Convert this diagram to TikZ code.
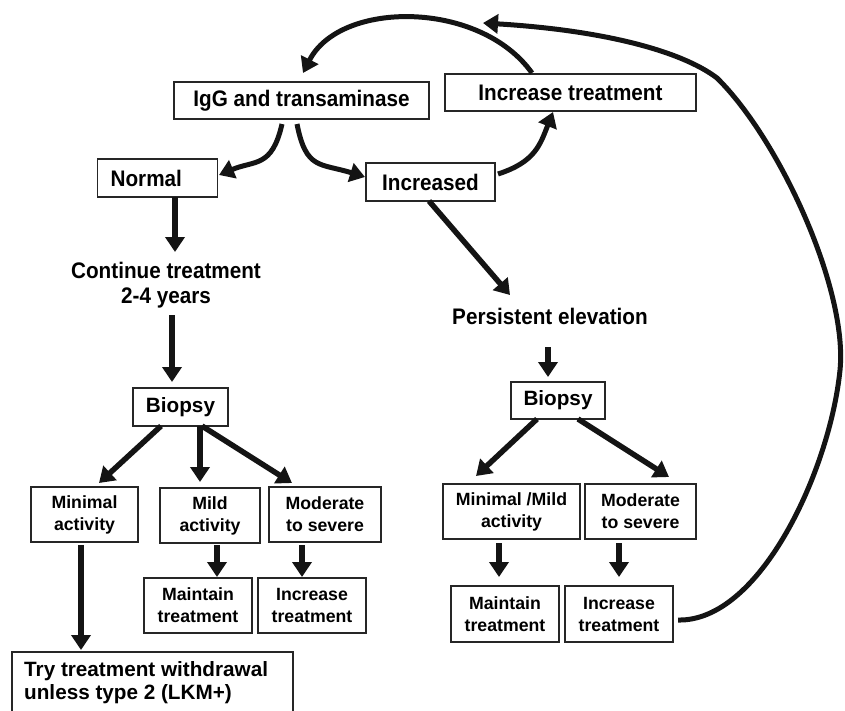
\documentclass[tikz,border=0pt]{standalone}
\usepackage{fontspec}
\setmainfont{Liberation Sans}
\newfontfamily\condfont{Liberation Sans}[FakeStretch=0.92]
\usetikzlibrary{arrows.meta}
\begin{document}
\begin{tikzpicture}[x=1pt,y=-1pt,
  box/.style={draw=black!85, line width=1.3pt, inner sep=0pt, align=center,
    font=\bfseries\fontsize{17.7}{22}\selectfont},
  bigbox/.style={draw=black!85, line width=1.3pt, inner sep=0pt, align=center,
    font=\bfseries\fontsize{20.7}{23}\selectfont},
  upbox/.style={draw=black!85, line width=1.3pt, inner sep=0pt, align=center,
    font=\condfont\bfseries\fontsize{22.5}{25}\selectfont},
  uptext/.style={inner sep=0pt, align=center,
    font=\condfont\bfseries\fontsize{22.5}{25}\selectfont},
  arr/.style={line width=5.5pt, draw=black!92, -{Triangle[length=15pt,width=19pt]}},
  curv/.style={line width=5pt, draw=black!92, -{Triangle[length=15pt,width=19pt]}},
  frame/.style={draw=black!85, line width=1.3pt},
]
\useasboundingbox (0,0) rectangle (845,710);

% upper part
\node[upbox, minimum width=255pt, minimum height=37pt] (igg) at (301.5,100.5) {IgG and transaminase};
\node[upbox, minimum width=251pt, minimum height=37pt] (inctop) at (570.5,92.5) {Increase treatment};
\node[upbox, anchor=west, text width=94pt, inner xsep=13pt, minimum height=38pt, align=left] (normal) at (97,178) {Normal};
\node[upbox, minimum width=129pt, minimum height=38pt] (increased) at (430.5,182) {Increased};
\node[uptext] (cont) at (166,285) {Continue treatment\\2-4 years};
\node[uptext] (pers) at (550,316) {Persistent elevation};

% left branch
\node[bigbox, minimum width=95pt, minimum height=38pt] (biopL) at (180.5,407) {Biopsy};
\node[box, minimum width=107pt, minimum height=55pt] (minL) at (84.5,514.5) {Minimal\\activity};
\node[box, minimum width=100pt, minimum height=55pt] (mildL) at (210,515.5) {Mild\\activity};
\node[box, minimum width=112pt, minimum height=55pt] (modL) at (325,514.5) {Moderate\\to severe};
\node[box, minimum width=108pt, minimum height=55pt] (maintL) at (198,605.5) {Maintain\\treatment};
\node[box, minimum width=108pt, minimum height=55pt] (incL) at (312,605.5) {Increase\\treatment};
\node[inner sep=0pt, anchor=north west, align=left, font=\bfseries\fontsize{20.7}{23}\selectfont] (tryL) at (24,661) {Try treatment withdrawal\\unless type 2 (LKM+)};
\draw[frame] (12,712) -- (12,652) -- (293,652) -- (293,712);

% right branch
\node[bigbox, minimum width=94pt, minimum height=37pt] (biopR) at (558,400.5) {Biopsy};
\node[box, minimum width=137pt, minimum height=55pt] (minR) at (511.5,511.5) {Minimal /Mild\\activity};
\node[box, minimum width=111pt, minimum height=55pt] (modR) at (640.5,511.5) {Moderate\\to severe};
\node[box, minimum width=108pt, minimum height=56pt] (maintR) at (505,614) {Maintain\\treatment};
\node[box, minimum width=108pt, minimum height=56pt] (incR) at (619,614) {Increase\\treatment};

% free ends of connectors
\coordinate (aNormal) at (175,197);   \coordinate (bNormal) at (175,252);
\coordinate (aCont) at (172,315);     \coordinate (bCont) at (172,382);
\coordinate (aIncd) at (429,201);     \coordinate (bIncd) at (510,295);
\coordinate (aPers) at (548,347);     \coordinate (bPers) at (548,377);
\coordinate (aBL1) at (161,426);      \coordinate (bBL1) at (99,483);
\coordinate (aBL2) at (200,426);      \coordinate (bBL2) at (200,482);
\coordinate (aBL3) at (202,426);      \coordinate (bBL3) at (292,483);
\coordinate (aMin) at (81,545);       \coordinate (bMin) at (81,650);
\coordinate (aMild) at (217,545);     \coordinate (bMild) at (217,577);
\coordinate (aMod) at (302,545);      \coordinate (bMod) at (302,577);
\coordinate (aBR1) at (537,419);      \coordinate (bBR1) at (476,476);
\coordinate (aBR2) at (578,419);      \coordinate (bBR2) at (669,477);
\coordinate (aMinR) at (499,543);     \coordinate (bMinR) at (499,577);
\coordinate (aModR) at (619,543);     \coordinate (bModR) at (619,577);
\coordinate (aIgg1) at (282,124);     \coordinate (bIgg1) at (219,175);
\coordinate (aIgg2) at (297,124);     \coordinate (bIgg2) at (365,177);
\coordinate (aInc) at (498,174);      \coordinate (bInc) at (553,112);
\coordinate (aTop) at (532,73);       \coordinate (bTop) at (303,73);
\coordinate (aBig) at (678,620);      \coordinate (mBig1) at (840,370);
\coordinate (mBig2) at (717,78);      \coordinate (bBig) at (483,23);

% straight arrows
\draw[arr] (aNormal) -- (bNormal);
\draw[arr] (aCont) -- (bCont);
\draw[arr] (aIncd) -- (bIncd);
\draw[arr] (aPers) -- (bPers);
\draw[arr] (aBL1) -- (bBL1);
\draw[arr] (aBL2) -- (bBL2);
\draw[arr] (aBL3) -- (bBL3);
\draw[arr] (aMin) -- (bMin);
\draw[arr] (aMild) -- (bMild);
\draw[arr] (aMod) -- (bMod);
\draw[arr] (aBR1) -- (bBR1);
\draw[arr] (aBR2) -- (bBR2);
\draw[arr] (aMinR) -- (bMinR);
\draw[arr] (aModR) -- (bModR);

% curved arrows
\draw[curv] (aIgg1) .. controls (272,168) and (255,160) .. (bIgg1);
\draw[curv] (aIgg2) .. controls (306,170) and (320,163) .. (bIgg2);
\draw[curv] (aInc) .. controls (535,162) and (540,145) .. (bInc);
\draw[curv] (aTop) .. controls (480,0) and (340,0) .. (bTop);
\draw[curv] (aBig) .. controls (760,622) and (830,470) .. (mBig1)
  .. controls (848,290) and (780,140) .. (mBig2)
  .. controls (680,50) and (600,30) .. (bBig);
\end{tikzpicture}
\end{document}
